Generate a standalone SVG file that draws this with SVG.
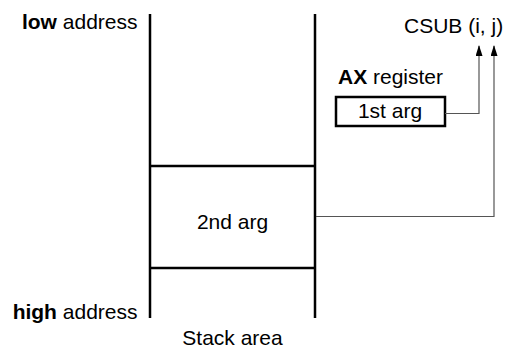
<svg xmlns="http://www.w3.org/2000/svg" width="505" height="350" viewBox="0 0 505 350">
<defs>
<style>
text{font-family:"Liberation Sans",Arial,Helvetica,sans-serif;font-size:21px;fill:#000}
.b{font-weight:bold}
.stk{stroke:#000;stroke-width:2.5;fill:none}
.con{stroke:#555;stroke-width:1.2;fill:none}
</style>
<marker id="ah" markerWidth="11" markerHeight="7" refX="10" refY="3.5" orient="auto" markerUnits="userSpaceOnUse" viewBox="0 0 11 7">
<path d="M11 3.5 L0 0 L0 7 Z" fill="#000"/>
</marker>
</defs>
<rect width="505" height="350" fill="#fff"/>
<g id="labels">
<text x="137.5" y="28.5" text-anchor="end"><tspan class="b">low</tspan> address</text>
<text x="137.5" y="318.5" text-anchor="end"><tspan class="b">high</tspan> address</text>
<text x="232.5" y="345" text-anchor="middle">Stack area</text>
<text x="404" y="33">CSUB (i, j)</text>
<text x="338" y="84"><tspan class="b">AX</tspan> register</text>
</g>
<g id="stack">
<line class="stk" x1="150" y1="14" x2="150" y2="318"/>
<line class="stk" x1="315" y1="14" x2="315" y2="318"/>
<line class="stk" x1="150" y1="166" x2="315" y2="166"/>
<line class="stk" x1="150" y1="268" x2="315" y2="268"/>
</g>
<g id="arg2">
<text x="232.5" y="229" text-anchor="middle">2nd arg</text>
</g>
<g id="arg1">
<rect x="336" y="97" width="109" height="29" fill="#fff" stroke="#000" stroke-width="2.5"/>
<text x="390" y="118" text-anchor="middle">1st arg</text>
</g>
<g id="connectors">
<polyline class="con" points="445,113.5 479,113.5 479,46" marker-end="url(#ah)"/>
<polyline class="con" points="316,216.5 494,216.5 494,46" marker-end="url(#ah)"/>
</g>
</svg>
